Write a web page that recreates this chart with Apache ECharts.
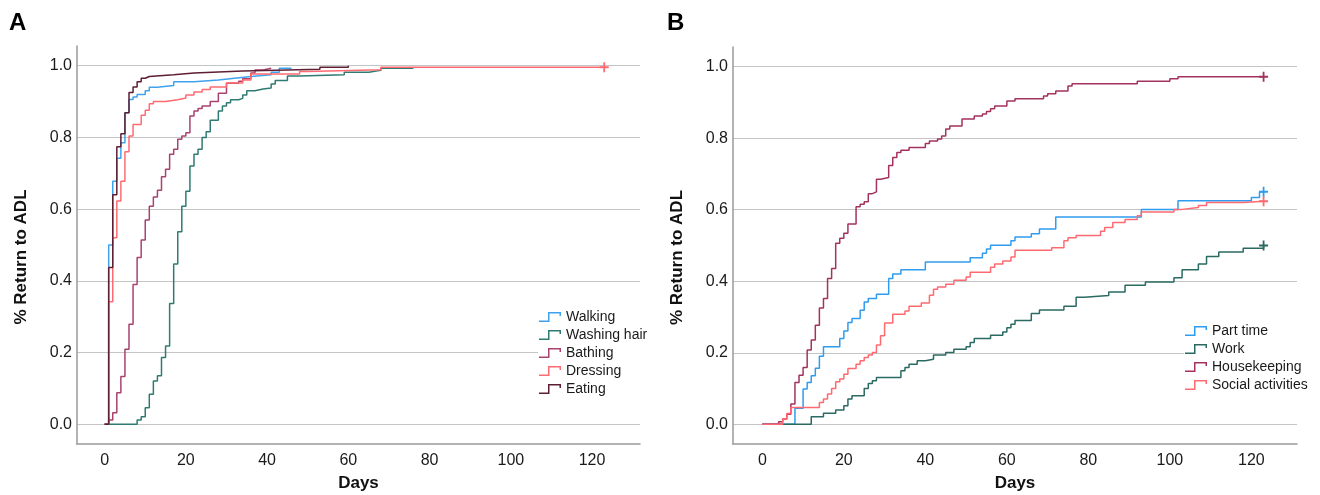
<!DOCTYPE html>
<html>
<head>
<meta charset="utf-8">
<title>Return to ADL</title>
<script src="https://cdn.jsdelivr.net/npm/echarts@6/dist/echarts.min.js"></script>
<style>
  html, body { margin: 0; padding: 0; background: #fff; }
  #chart { width: 1320px; height: 495px; }
</style>
</head>
<body>
<div id="chart"></div>
<script>
// tick labels
const dayTicks = [0, 20, 40, 60, 80, 100, 120];
const pctTicks = [0, 0.2, 0.4, 0.6, 0.8, 1.0];

// panel A: [day, cumulative proportion]
const walking = [[0,0],[1,0.5],[2,0.678],[3,0.742],[4,0.785],[5,0.869],[6,0.906],[7,0.913],[8,0.92],[10,0.93],[11,0.94],[13,0.945],[17,0.955],[22,0.96],[28,0.965],[32,0.97],[36,0.975],[41,0.982],[43,0.993],[46,0.993]];
const washingHair = [[0,0],[8,0.012],[9,0.021],[10,0.046],[11,0.084],[12,0.121],[13,0.135],[14,0.186],[15,0.218],[16,0.337],[17,0.447],[18,0.537],[19,0.608],[20,0.65],[21,0.72],[22,0.753],[23,0.767],[24,0.8],[25,0.816],[26,0.848],[28,0.874],[29,0.888],[30,0.897],[31,0.905],[33,0.909],[34,0.918],[35,0.93],[37,0.935],[39,0.938],[41,0.949],[42,0.959],[45,0.971],[48,0.975],[59,0.982],[65,0.987],[68,0.993],[76,0.993]];
const bathing = [[0,0],[1,0.012],[2,0.032],[3,0.088],[4,0.133],[5,0.209],[6,0.279],[7,0.39],[8,0.465],[9,0.514],[10,0.57],[11,0.608],[12,0.634],[13,0.653],[14,0.69],[15,0.711],[16,0.753],[17,0.767],[18,0.795],[19,0.804],[20,0.813],[21,0.86],[22,0.874],[23,0.881],[24,0.888],[26,0.9],[28,0.923],[30,0.951],[33,0.957],[34,0.964],[36,0.98],[37,0.988],[39,0.993],[41,0.993]];
const dressing = [[0,0],[1,0.342],[2,0.52],[3,0.623],[4,0.678],[5,0.76],[6,0.804],[7,0.836],[9,0.862],[10,0.876],[11,0.894],[12,0.9],[15,0.905],[18,0.91],[20,0.918],[22,0.927],[24,0.934],[26,0.941],[30,0.952],[34,0.96],[36,0.977],[48,0.984],[50,0.989],[68,0.996],[123,0.996]];
const eating = [[0,0],[1,0.437],[2,0.64],[3,0.774],[4,0.81],[5,0.869],[6,0.925],[7,0.941],[8,0.955],[9,0.965],[10,0.97],[11,0.975],[17,0.98],[22,0.985],[34,0.99],[53,0.996],[60,1.0]];

// panel B
const partTime = [[0,0],[8,0.045],[10,0.099],[11,0.117],[12,0.136],[13,0.157],[14,0.19],[15,0.217],[19,0.24],[20,0.261],[21,0.285],[22,0.296],[24,0.319],[25,0.342],[26,0.352],[28,0.364],[31,0.408],[32,0.42],[34,0.432],[40,0.454],[51,0.466],[54,0.478],[55,0.49],[56,0.501],[61,0.513],[62,0.524],[66,0.533],[68,0.546],[72,0.58],[93,0.601],[102,0.625],[120,0.634],[122,0.65],[123,0.65]];
const work = [[0,0],[12,0.021],[15,0.031],[18,0.04],[20,0.052],[21,0.071],[22,0.08],[25,0.1],[26,0.114],[27,0.122],[28,0.131],[34,0.15],[35,0.159],[36,0.168],[38,0.178],[40,0.182],[42,0.194],[45,0.201],[47,0.21],[50,0.217],[51,0.229],[52,0.24],[56,0.249],[59,0.258],[60,0.27],[61,0.28],[62,0.29],[66,0.31],[68,0.32],[74,0.33],[77,0.355],[79,0.36],[85,0.37],[89,0.389],[94,0.398],[101,0.41],[103,0.432],[107,0.448],[109,0.469],[112,0.482],[118,0.492],[123,0.5]];
const housekeeping = [[0,0],[4,0.007],[5,0.015],[6,0.028],[7,0.057],[8,0.117],[9,0.137],[10,0.159],[11,0.208],[12,0.236],[13,0.277],[14,0.325],[15,0.352],[16,0.408],[17,0.436],[18,0.506],[19,0.52],[20,0.534],[21,0.56],[23,0.608],[24,0.615],[25,0.622],[26,0.645],[27,0.65],[28,0.685],[29,0.69],[31,0.724],[32,0.746],[33,0.76],[34,0.766],[36,0.774],[40,0.785],[41,0.792],[43,0.798],[44,0.806],[45,0.826],[46,0.834],[49,0.854],[52,0.862],[54,0.868],[55,0.875],[56,0.882],[57,0.89],[60,0.904],[62,0.91],[69,0.918],[70,0.924],[72,0.932],[75,0.946],[76,0.952],[92,0.959],[100,0.966],[102,0.972],[123,0.972]];
const socialActivities = [[0,0],[5,0.015],[6,0.03],[7,0.047],[14,0.061],[15,0.071],[16,0.085],[17,0.1],[18,0.119],[19,0.127],[20,0.14],[21,0.156],[23,0.168],[24,0.178],[25,0.187],[26,0.194],[27,0.201],[28,0.222],[29,0.248],[30,0.283],[32,0.308],[35,0.317],[36,0.33],[39,0.339],[41,0.361],[42,0.378],[43,0.384],[45,0.392],[47,0.403],[50,0.412],[51,0.425],[56,0.439],[57,0.448],[59,0.457],[61,0.468],[62,0.487],[71,0.494],[74,0.513],[75,0.522],[77,0.528],[83,0.54],[84,0.55],[86,0.564],[89,0.573],[92,0.583],[93,0.594],[101,0.601],[103,0.606],[107,0.612],[109,0.62],[118,0.624],[123,0.624]];

const FONT = "'Liberation Sans', Arial, sans-serif";
const stepIcon = "path://M0,8.5L9,8.5L9,0L22,0L22,4L20.5,4L20.5,1.5L10.5,1.5L10.5,10L0,10Z";
const plusIcon = "path://M4,0L6,0L6,4L10,4L10,6L6,6L6,10L4,10L4,6L0,6L0,4L4,4Z";

// censored flag puts a "+" on the last point
function stepSeries(name, color, data, idx, censored) {
  const pts = data.map((p, i) => {
    if (censored && i === data.length - 1) {
      return { value: p, symbol: plusIcon, symbolSize: [9, 10] };
    }
    return p;
  });
  return {
    name: name,
    type: "line",
    step: "end",
    xAxisIndex: idx,
    yAxisIndex: idx,
    symbol: "none",
    showSymbol: true,
    color: color,
    lineStyle: { width: 1.5, color: color },
    itemStyle: { color: color, borderWidth: 0 },
    emphasis: { disabled: true },
    data: pts,
  };
}

function xAxisOf(idx, min, max) {
  return {
    type: "value",
    gridIndex: idx,
    min: min,
    max: max,
    name: "Days",
    nameLocation: "middle",
    nameGap: 31,
    nameTextStyle: { fontFamily: FONT, fontSize: 17, fontWeight: "bold", color: "#111" },
    axisLine: { show: true, onZero: false, lineStyle: { color: "#9a9a9a", width: 1.5 } },
    axisTick: { show: false, customValues: dayTicks },
    axisLabel: { customValues: dayTicks, margin: 9, fontFamily: FONT, fontSize: 16, color: "#1a1a1a" },
    splitLine: { show: false },
  };
}

function yAxisOf(idx) {
  return {
    type: "value",
    gridIndex: idx,
    min: -0.055,
    max: 1.055,
    name: "% Return to ADL",
    nameLocation: "middle",
    nameGap: 47,
    nameTextStyle: { fontFamily: FONT, fontSize: 17, fontWeight: "bold", color: "#111", padding: [0, 24, 0, 0] },
    axisLine: { show: true, onZero: false, lineStyle: { color: "#9a9a9a", width: 1.5 } },
    axisTick: { show: false, customValues: pctTicks },
    axisLabel: {
      customValues: pctTicks,
      margin: 5,
      fontFamily: FONT,
      fontSize: 16,
      color: "#1a1a1a",
      formatter: (v) => v.toFixed(1),
    },
    splitLine: { show: true, lineStyle: { color: "#c4c4c4", width: 1.2 } },
  };
}

function legendOf(left, top, names) {
  return {
    orient: "vertical",
    left: left,
    top: top,
    data: names,
    icon: stepIcon,
    itemWidth: 22,
    itemHeight: 10,
    itemGap: 4,
    padding: [0, 4, 0, 1],
    backgroundColor: "#fff",
    itemStyle: { borderWidth: 0 },
    textStyle: { fontFamily: FONT, fontSize: 14, color: "#1a1a1a" },
    selectedMode: false,
  };
}

const chart = echarts.init(document.getElementById("chart"), null, { renderer: "canvas" });
chart.setOption({
  animation: false,
  backgroundColor: "#fff",
  title: [
    { text: "A", left: 9, top: 11, padding: 0, textStyle: { fontFamily: FONT, fontSize: 24, fontWeight: "bold", color: "#000" } },
    { text: "B", left: 667, top: 11, padding: 0, textStyle: { fontFamily: FONT, fontSize: 24, fontWeight: "bold", color: "#000" } },
  ],
  grid: [
    { left: 77, top: 46, width: 563, height: 398, outerBoundsMode: "none" },
    { left: 733, top: 47, width: 564, height: 397, outerBoundsMode: "none" },
  ],
  xAxis: [xAxisOf(0, -6.8, 131.8), xAxisOf(1, -7.2, 131.2)],
  yAxis: [yAxisOf(0), yAxisOf(1)],
  legend: [
    legendOf(538, 310, ["Walking", "Washing hair", "Bathing", "Dressing", "Eating"]),
    legendOf(1184, 324, ["Part time", "Work", "Housekeeping", "Social activities"]),
  ],
  series: [
    stepSeries("Walking", "#3fa2ec", walking, 0, false),
    stepSeries("Washing hair", "#2f7a72", washingHair, 0, false),
    stepSeries("Bathing", "#a9426f", bathing, 0, false),
    stepSeries("Dressing", "#ff6b72", dressing, 0, true),
    stepSeries("Eating", "#5e1f33", eating, 0, false),
    stepSeries("Part time", "#2f9cf0", partTime, 1, true),
    stepSeries("Work", "#2a6a62", work, 1, true),
    stepSeries("Housekeeping", "#a3325e", housekeeping, 1, true),
    stepSeries("Social activities", "#ff6a70", socialActivities, 1, true),
  ],
});
</script>
</body>
</html>
